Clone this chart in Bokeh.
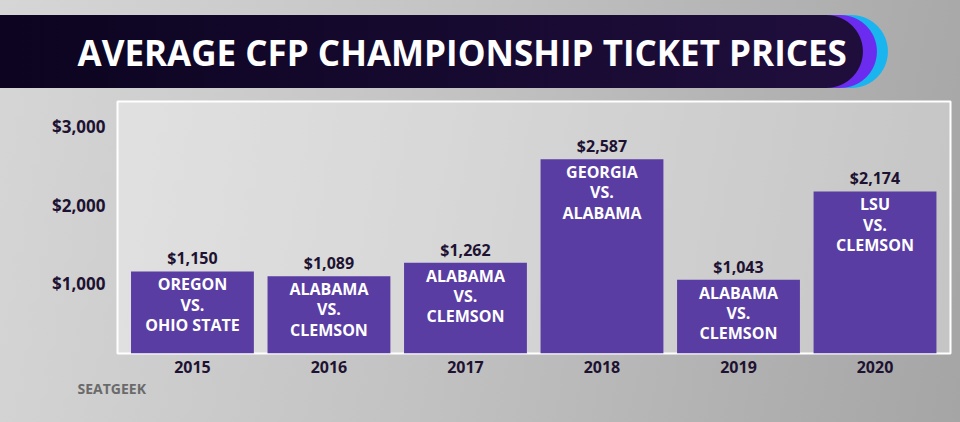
from bokeh.plotting import figure
from bokeh.models import Range1d, FixedTicker, Title, ColumnDataSource
from bokeh.core.properties import value
from bokeh.embed import file_html
from bokeh.resources import INLINE

# ---- data ----
years = ["2015", "2016", "2017", "2018", "2019", "2020"]
prices = [1150, 1089, 1262, 2587, 1043, 2174]
matchups = [
    "OREGON\nVS.\nOHIO STATE",
    "ALABAMA\nVS.\nCLEMSON",
    "ALABAMA\nVS.\nCLEMSON",
    "GEORGIA\nVS.\nALABAMA",
    "ALABAMA\nVS.\nCLEMSON",
    "LSU\nVS.\nCLEMSON",
]
y_ticks = [1000, 2000, 3000]
y_tick_labels = ["$1,000", "$2,000", "$3,000"]
title_text = "AVERAGE CFP CHAMPIONSHIP TICKET PRICES"
source_text = "SEATGEEK"

FONT = "Open Sans"
DARK = "#1e1232"
BAR = "#5a3da3"

W, H = 960, 422
FL, FR, FT, FB = 117, 950, 100, 353   # frame edges on the canvas

x = list(range(len(years)))
src = ColumnDataSource(dict(
    x=x, price=prices, matchup=matchups,
    plabel=["${:,}".format(v) for v in prices],
))

p = figure(width=W, height=H, output_backend="svg", toolbar_location=None,
           x_range=Range1d(-0.549, 5.553), y_range=Range1d(100, 3325),
           min_border_left=FL, min_border_right=W - FR, min_border_top=FT,
           min_border_bottom=H - FB,
           border_fill_alpha=0,
           background_fill_color="white", background_fill_alpha=0.35,
           outline_line_color="white", outline_line_width=2)

# banner shape (dark band with violet/cyan rounded rims) + grey backdrop, as CSS layers
band_y, band_h = 15, 73
r = band_h / 2
cy = band_y + r
layers = []
for xmax, c_end, c_start in [(863, "#1f0e3c", "#0c0420"), (877, "#6b2cf0", "#6b2cf0"), (888, "#1ab4ef", "#1ab4ef")]:
    cx = xmax - r
    layers.append(f"radial-gradient(circle {r}px at {cx}px {cy}px, {c_end} {r - 0.6}px, rgba(0,0,0,0) {r + 0.4}px) no-repeat")
    layers.append(f"linear-gradient(to right, {c_start}, {c_end}) 0px {band_y}px / {cx + 0.5}px {band_h}px no-repeat")
layers.append("linear-gradient(100deg, #d6d6d6 0%, #c3c3c3 45%, #a5a5a5 100%)")
p.styles = {"background": ", ".join(layers)}

p.title = Title(text=title_text, align="left", offset=-40, standoff=52,
                text_font=FONT, text_font_style="bold", text_font_size="35px",
                text_color="white")

p.grid.visible = False

p.vbar(x="x", top="price", bottom=0, width=0.9, source=src,
       fill_color=BAR, line_color=None)
p.text(x="x", y="price", text="plabel", source=src, y_offset=-2,
       text_color=DARK, text_font=value(FONT), text_font_style="bold",
       text_font_size="16px", text_align="center", text_baseline="bottom")
p.text(x="x", y="price", text="matchup", source=src, y_offset=2,
       text_color="white", text_font=value(FONT), text_font_style="bold",
       text_font_size="16px", text_align="center", text_baseline="top",
       text_line_height=0.92)

for ax in (p.xaxis[0], p.yaxis[0]):
    ax.axis_line_color = None
    ax.major_tick_line_color = None
    ax.minor_tick_line_color = None
    ax.major_label_text_font = FONT
    ax.major_label_text_font_style = "bold"
    ax.major_label_text_color = DARK

p.xaxis.ticker = FixedTicker(ticks=x)
p.xaxis.major_label_overrides = {i: yv for i, yv in zip(x, years)}
p.xaxis.major_label_standoff = 1
p.xaxis.major_label_text_font_size = "16px"
p.yaxis.ticker = FixedTicker(ticks=y_ticks)
p.yaxis.major_label_overrides = {v: l for v, l in zip(y_ticks, y_tick_labels)}
p.yaxis.major_label_standoff = 6
p.yaxis.major_label_text_font_size = "17px"

src_title = Title(text=source_text, align="left", offset=-40, standoff=2,
                  text_font=FONT, text_font_style="bold",
                  text_font_size="14px", text_color="#6a6a6a")
p.add_layout(src_title, "below")

open("out.html", "w").write(file_html(p, INLINE))
